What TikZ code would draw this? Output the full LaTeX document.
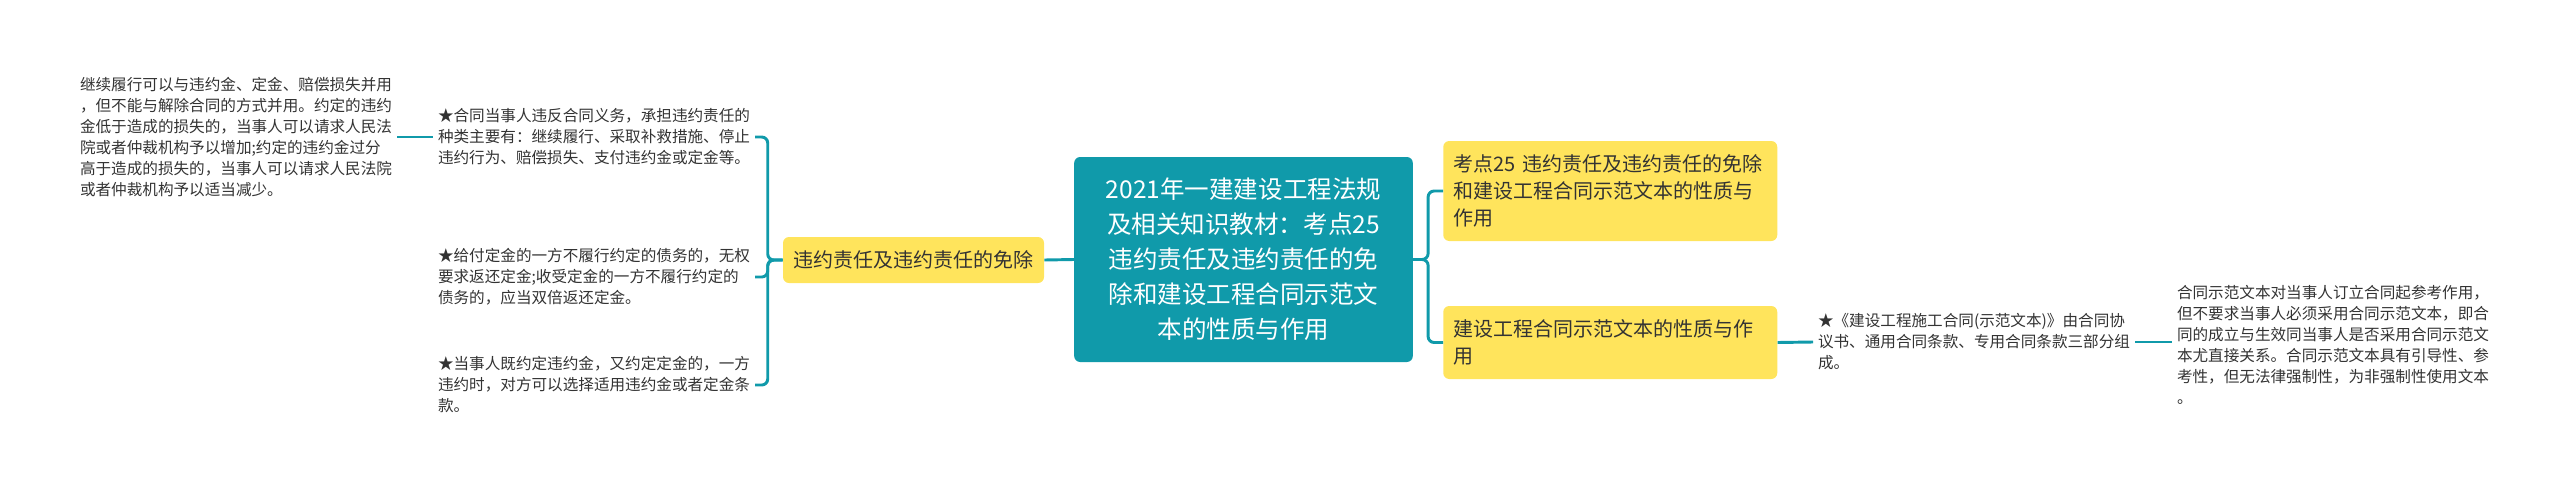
\documentclass[tikz,border=0pt]{standalone}
\usepackage{fontspec}
\setmainfont{Noto Sans CJK SC}
\definecolor{mapteal}{HTML}{109AAA}
\definecolor{mapyellow}{HTML}{FFE45C}
\definecolor{maptext}{HTML}{333333}

\begin{document}
\begin{tikzpicture}[x=0.75pt,y=-0.75pt,
	link/.style={draw=mapteal,line width=2.2pt,rounded corners=4.5pt},
	rootbox/.style={fill=mapteal,rounded corners=4.5pt,text=white,align=center,minimum width=254pt,minimum height=153.75pt,inner sep=0pt,font=\fontsize{18.4}{26.25}\selectfont},
	topic/.style={fill=mapyellow,rounded corners=4.5pt,text=maptext,inner ysep=0pt,font=\fontsize{15}{20.25}\selectfont},
	leaf/.style={text=maptext,align=left,inner sep=0pt,outer sep=3.75pt,font=\fontsize{11.7}{15.75}\selectfont}]
	\useasboundingbox (0,0) rectangle (2560,490);
	\node[rootbox] (root) at (1243.5,259.5) {2021年一建建设工程法规\\及相关知识教材：考点25\\违约责任及违约责任的免\\除和建设工程合同示范文\\本的性质与作用};
	\node[topic,minimum width=195.75pt,minimum height=34.5pt,inner xsep=0pt] (resp) at (913.5,260) {违约责任及违约责任的免除};
	\node[topic,anchor=west,text width=235.5pt,inner xsep=7.5pt,minimum height=75pt,align=left] (kd) at (1443,191) {考点25 违约责任及违约责任的免除\\和建设工程合同示范文本的性质与\\作用};
	\node[topic,anchor=west,text width=235.5pt,inner xsep=7.5pt,minimum height=54.75pt,align=left] (model) at (1443,342.5) {建设工程合同示范文本的性质与作\\用};
	\node[leaf,anchor=west] (dues) at (433,137) {★合同当事人违反合同义务，承担违约责任的\\种类主要有：继续履行、采取补救措施、停止\\违约行为、赔偿损失、支付违约金或定金等。};
	\node[leaf,anchor=west] (deposit) at (433,277) {★给付定金的一方不履行约定的债务的，无权\\要求返还定金;收受定金的一方不履行约定的\\债务的，应当双倍返还定金。};
	\node[leaf,anchor=west] (penalty) at (433,385) {★当事人既约定违约金，又约定定金的，一方\\违约时，对方可以选择适用违约金或者定金条\\款。};
	\node[leaf,anchor=west] (perform) at (75,137) {继续履行可以与违约金、定金、赔偿损失并用\\，但不能与解除合同的方式并用。约定的违约\\金低于造成的损失的，当事人可以请求人民法\\院或者仲裁机构予以增加;约定的违约金过分\\高于造成的损失的，当事人可以请求人民法院\\或者仲裁机构予以适当减少。};
	\node[leaf,anchor=west] (parts) at (1813,342) {★《建设工程施工合同(示范文本)》由合同协\\议书、通用合同条款、专用合同条款三部分组\\成。};
	\node[leaf,anchor=west] (sample) at (2172,345) {合同示范文本对当事人订立合同起参考作用，\\但不要求当事人必须采用合同示范文本，即合\\同的成立与生效同当事人是否采用合同示范文\\本尤直接关系。合同示范文本具有引导性、参\\考性，但无法律强制性，为非强制性使用文本\\。};
	\draw[link] (resp.east) -- (root.west);
	\foreach \n in {dues,deposit,penalty}
	\draw[link] (resp.west) -- ++(-15,0) |- (\n.east);
	\foreach \n in {kd,model}
	\draw[link] (root.east) -- ++(15,0) |- (\n.west);
	\draw[link] (perform.east) -- (perform.east -| dues.west);
	\draw[link] (model.east) -- (parts.west);
	\draw[link] (parts.east) -- (parts.east -| sample.west);
\end{tikzpicture}
\end{document}
